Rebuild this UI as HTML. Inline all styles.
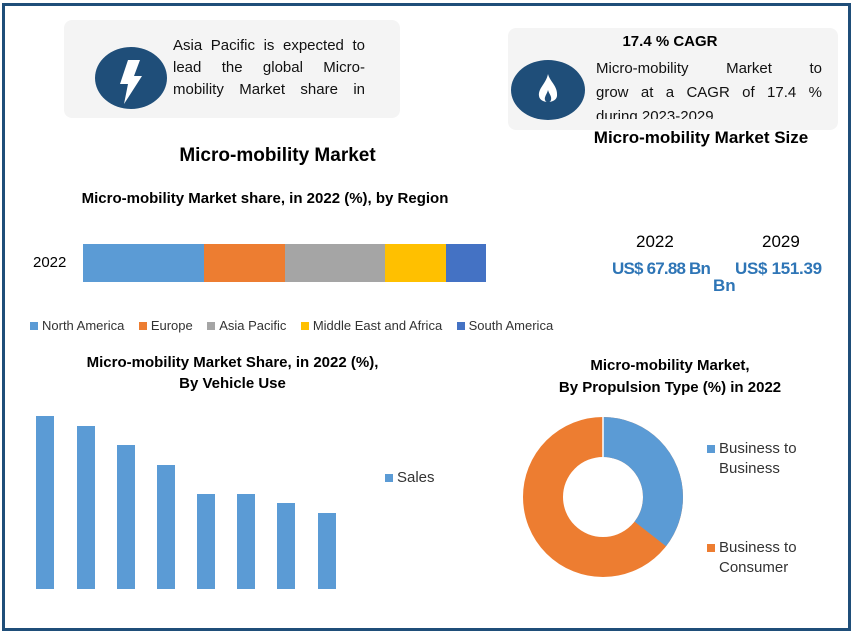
<!DOCTYPE html>
<html><head><style>
body{margin:0;width:851px;height:633px;background:#fff;font-family:"Liberation Sans",sans-serif;position:relative;overflow:hidden}
.a{position:absolute}
.bar{position:absolute;background:#5b9bd5;width:18px}
.t{font-weight:bold;color:#000;text-align:center}
.leg span{display:inline-block;width:8px;height:8px;margin-right:4px}
.j{display:flex;justify-content:space-between;white-space:nowrap}
</style></head><body>
<div class="a" style="left:2px;top:3px;width:843px;height:622px;border:3px solid #1f4e79"></div>
<div class="a" style="left:64px;top:20px;width:336px;height:98px;background:#f4f4f4;border-radius:8px"></div>
<div class="a" style="left:95px;top:47px;width:72px;height:62px;border-radius:50%;background:#1f4e79"></div>
<svg class="a" style="left:110px;top:58px" width="40" height="48"><polygon points="18,2 30,2 24,18 32,18 14,46 18,26 10,26" fill="#fff"/></svg>
<div class="a" style="left:173px;top:35px;width:192px;font-size:15px;line-height:22px;color:#111">
<div class="j"><span>Asia</span><span>Pacific</span><span>is</span><span>expected</span><span>to</span></div>
<div class="j"><span>lead</span><span>the</span><span>global</span><span>Micro-</span></div>
<div class="j"><span>mobility</span><span>Market</span><span>share</span><span>in</span></div></div>
<div class="a" style="left:508px;top:28px;width:330px;height:102px;background:#f4f4f4;border-radius:8px"></div>
<div class="a t" style="left:560px;top:33px;width:220px;font-size:15px">17.4 % CAGR</div>
<div class="a" style="left:511px;top:60px;width:74px;height:60px;border-radius:50%;background:#1f4e79"></div>
<svg class="a" style="left:536px;top:72px" width="24" height="36"><path d="M12,2 C14,10 22,14 21,24 C20,32 4,32 3,24 C2,16 10,12 12,2Z" fill="#fff"/><path d="M12,18 C13,22 16,24 15,28 C14,31 10,31 9,28 C8,25 11,22 12,18Z" fill="#1f4e79"/></svg>
<div class="a" style="left:596px;top:57px;width:226px;height:62px;overflow:hidden;font-size:15px;line-height:24px;color:#111">
<div class="j"><span>Micro-mobility</span><span>Market</span><span>to</span></div>
<div class="j"><span>grow</span><span>at</span><span>a</span><span>CAGR</span><span>of</span><span>17.4</span><span>%</span></div>
<div>during 2023-2029</div></div>
<div class="a t" style="left:570px;top:128px;width:262px;font-size:17px">Micro-mobility Market Size</div>
<div class="a t" style="left:140px;top:145px;width:275px;font-size:19px">Micro-mobility Market</div>
<div class="a t" style="left:40px;top:190px;width:450px;font-size:15px">Micro-mobility Market share, in 2022 (%), by Region</div>
<div class="a" style="left:33px;top:254px;font-size:15px">2022</div>
<div class="a" style="left:83px;top:244px;width:121px;height:38px;background:#5b9bd5"></div>
<div class="a" style="left:204px;top:244px;width:81px;height:38px;background:#ed7d31"></div>
<div class="a" style="left:285px;top:244px;width:100px;height:38px;background:#a5a5a5"></div>
<div class="a" style="left:385px;top:244px;width:61px;height:38px;background:#ffc000"></div>
<div class="a" style="left:446px;top:244px;width:40px;height:38px;background:#4472c4"></div>
<div class="a leg" style="left:30px;top:318px;font-size:13px;color:#333;white-space:nowrap">
<span style="background:#5b9bd5"></span>North America&nbsp;&nbsp;&nbsp;&nbsp;<span style="background:#ed7d31"></span>Europe&nbsp;&nbsp;&nbsp;&nbsp;<span style="background:#a5a5a5"></span>Asia Pacific&nbsp;&nbsp;&nbsp;&nbsp;<span style="background:#ffc000"></span>Middle East and Africa&nbsp;&nbsp;&nbsp;&nbsp;<span style="background:#4472c4"></span>South America</div>
<div class="a" style="left:636px;top:232px;font-size:17px">2022</div>
<div class="a" style="left:762px;top:232px;font-size:17px">2029</div>
<div class="a" style="left:612px;top:259px;font-size:17px;color:#2e75b6;font-weight:bold;letter-spacing:-0.8px">US$ 67.88 Bn</div>
<div class="a" style="left:735px;top:259px;font-size:17px;color:#2e75b6;font-weight:bold;letter-spacing:-0.3px">US$ 151.39</div>
<div class="a" style="left:713px;top:276px;font-size:17px;color:#2e75b6;font-weight:bold">Bn</div>
<div class="a t" style="left:30px;top:352px;width:405px;font-size:15px;line-height:21px">Micro-mobility Market Share, in 2022 (%),<br>By Vehicle Use</div>
<div class="bar" style="left:36px;top:416px;height:173px"></div>
<div class="bar" style="left:77px;top:426px;height:163px"></div>
<div class="bar" style="left:117px;top:445px;height:144px"></div>
<div class="bar" style="left:157px;top:465px;height:124px"></div>
<div class="bar" style="left:197px;top:494px;height:95px"></div>
<div class="bar" style="left:237px;top:494px;height:95px"></div>
<div class="bar" style="left:277px;top:503px;height:86px"></div>
<div class="bar" style="left:318px;top:513px;height:76px"></div>
<div class="a leg" style="left:385px;top:469px;font-size:15px;color:#333"><span style="background:#5b9bd5"></span>Sales</div>
<div class="a t" style="left:520px;top:355px;width:300px;font-size:15px;line-height:22px">Micro-mobility Market,<br>By Propulsion Type (%) in 2022</div>
<svg class="a" style="left:523px;top:417px" width="160" height="160">
<circle cx="80" cy="80" r="60" fill="none" stroke="#ed7d31" stroke-width="40"/>
<circle cx="80" cy="80" r="60" fill="none" stroke="#5b9bd5" stroke-width="40" stroke-dasharray="134 400" transform="rotate(-90 80 80)"/>
<line x1="80" y1="0" x2="80" y2="40" stroke="#fff" stroke-width="1.5"/>
</svg>
<div class="a leg" style="left:707px;top:439px;font-size:15px;line-height:20px;color:#333"><span style="background:#5b9bd5"></span>Business to<br><span style="background:none"></span>Business</div>
<div class="a leg" style="left:707px;top:538px;font-size:15px;line-height:20px;color:#333"><span style="background:#ed7d31"></span>Business to<br><span style="background:none"></span>Consumer</div>
</body></html>
